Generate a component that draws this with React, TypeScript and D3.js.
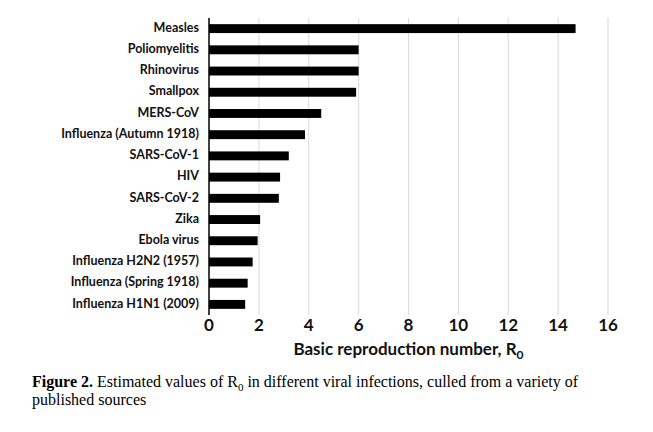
import { useMemo } from "react";
import * as d3 from "d3";

const infections = [
  "Measles",
  "Poliomyelitis",
  "Rhinovirus",
  "Smallpox",
  "MERS-CoV",
  "Influenza (Autumn 1918)",
  "SARS-CoV-1",
  "HIV",
  "SARS-CoV-2",
  "Zika",
  "Ebola virus",
  "Influenza H2N2 (1957)",
  "Influenza (Spring 1918)",
  "Influenza H1N1 (2009)",
];

const r0Values = [14.7, 6.0, 6.0, 5.9, 4.5, 3.85, 3.2, 2.85, 2.8, 2.05, 1.95, 1.75, 1.55, 1.45];

const xTicks = [0, 2, 4, 6, 8, 10, 12, 14, 16];

const W = 653;
const H = 432;
const chartFont = "Lato, 'Open Sans', sans-serif";

export default function App() {
  const margin = { top: 18, left: 209, right: 45, bottom: 117 };

  const x = useMemo(
    () => d3.scaleLinear().domain([0, 16]).range([margin.left, W - margin.right]),
    []
  );
  const y = useMemo(
    () =>
      d3
        .scaleBand<string>()
        .domain(infections)
        .range([margin.top, H - margin.bottom])
        .paddingInner(0.58)
        .paddingOuter(0.29),
    []
  );

  const rows = infections.map((name, i) => ({ name, value: r0Values[i] }));
  const y0 = margin.top;
  const y1 = H - margin.bottom;

  return (
    <div style={{ position: "fixed", left: 0, top: 0 }}>
      <svg width={W} height={H} style={{ display: "block", background: "#fff" }}>
        {/* grid */}
        {xTicks.slice(1).map((t) => (
          <line key={t} x1={x(t)} x2={x(t)} y1={y0} y2={y1} stroke="#d9d9d9" strokeWidth={1} />
        ))}

        {/* bars */}
        {rows.map((d) => (
          <rect
            key={d.name}
            x={x(0)}
            y={y(d.name)}
            width={x(d.value) - x(0)}
            height={y.bandwidth()}
            fill="#000"
          />
        ))}

        {/* y axis line */}
        <line x1={x(0)} x2={x(0)} y1={y0} y2={y1} stroke="#000" strokeWidth={1.5} />

        {/* category labels */}
        {rows.map((d) => (
          <text
            key={d.name}
            x={x(0) - 10}
            y={(y(d.name) || 0) + y.bandwidth() / 2}
            textAnchor="end"
            dominantBaseline="middle"
            fontFamily={chartFont}
            fontWeight={700}
            fontSize={12.5}
            fill="#111"
          >
            {d.name}
          </text>
        ))}

        {/* x tick labels */}
        {xTicks.map((t) => (
          <text
            key={t}
            x={x(t)}
            y={y1 + 16}
            textAnchor="middle"
            fontFamily={chartFont}
            fontWeight={700}
            fontSize={17}
            fill="#111"
          >
            {t}
          </text>
        ))}

        {/* axis title */}
        <text
          x={(x(0) + x(16)) / 2}
          y={y1 + 40}
          textAnchor="middle"
          fontFamily={chartFont}
          fontWeight={700}
          fontSize={17}
          fill="#111"
        >
          Basic reproduction number, R
          <tspan fontSize={12} dy={4}>0</tspan>
        </text>

        {/* caption */}
        <text x={32} y={387} fontFamily="'Liberation Serif', 'Times New Roman', serif" fontSize={16} fill="#000">
          <tspan fontWeight={700}>Figure 2.</tspan> Estimated values of R
          <tspan fontSize={11} dy={4}>0</tspan>
          <tspan dy={-4}> in different viral infections, culled from a variety of</tspan>
        </text>
        <text x={32} y={405} fontFamily="'Liberation Serif', 'Times New Roman', serif" fontSize={16} fill="#000">
          published sources
        </text>
      </svg>
    </div>
  );
}
